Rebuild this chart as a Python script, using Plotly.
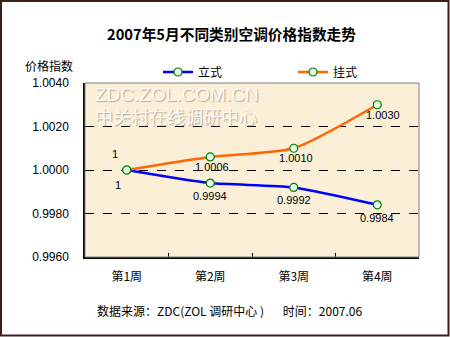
import plotly.graph_objects as go

categories = ["第1周", "第2周", "第3周", "第4周"]
lishi = [1.0, 0.9994, 0.9992, 0.9984]
guashi = [1.0, 1.0006, 1.0010, 1.0030]
lishi_labels = ["1", "0.9994", "0.9992", "0.9984"]
guashi_labels = ["1", "1.0006", "1.0010", "1.0030"]
y_ticks = [0.9960, 0.9980, 1.0000, 1.0020, 1.0040]

W, H = 450, 337
L, R, T, B = 85, 419, 83, 257

def px(x):
    return (x - L) / (R - L)

def py(y):
    return (B - y) / (B - T)

font_num = "Liberation Sans, Arial, sans-serif"
font_cjk = "Noto Sans CJK SC, sans-serif"

fig = go.Figure()
marker = dict(symbol="circle", size=8, color="#E6FFE6", line=dict(color="#008000", width=1.2))
fig.add_trace(go.Scatter(x=categories, y=lishi, name="立式", mode="lines+markers",
                         line=dict(color="#0000FF", width=2.5, shape="spline", smoothing=0.6),
                         marker=marker, legend="legend"))
fig.add_trace(go.Scatter(x=categories, y=guashi, name="挂式", mode="lines+markers",
                         line=dict(color="#FF6600", width=2.5, shape="spline", smoothing=0.6),
                         marker=marker, legend="legend2"))

ann = []
# watermark (drawn first, under the data labels)
wm_font = dict(color="rgba(255,255,250,0.9)", shadow="1px 1px 1px rgba(140,130,115,0.7)")
ann.append(dict(xref="paper", yref="paper", x=px(93), y=py(94), xanchor="left", yanchor="middle",
                text="ZDC.ZOL.COM.CN", showarrow=False,
                font=dict(family=font_num, size=19, **wm_font)))
ann.append(dict(xref="paper", yref="paper", x=px(93), y=py(116), xanchor="left", yanchor="middle",
                text="中关村在线调研中心", showarrow=False,
                font=dict(family=font_cjk, size=18, **wm_font)))
# data labels
for i, (c, v, t) in enumerate(zip(categories, guashi, guashi_labels)):
    if i == 0:
        ann.append(dict(x=c, y=v, text=t, showarrow=False, xshift=-12, yshift=16,
                        font=dict(family=font_num, size=11, color="#000000")))
    else:
        ann.append(dict(x=c, y=v, text=t, showarrow=False, xshift=2 if i < 3 else 6, yshift=-10,
                        font=dict(family=font_num, size=11, color="#000000")))
for i, (c, v, t) in enumerate(zip(categories, lishi, lishi_labels)):
    if i == 0:
        ann.append(dict(x=c, y=v, text=t, showarrow=False, xshift=-9, yshift=-15,
                        font=dict(family=font_num, size=11, color="#000000")))
    else:
        ann.append(dict(x=c, y=v, text=t, showarrow=False, xshift=0, yshift=-13,
                        font=dict(family=font_num, size=11, color="#000000")))
# title
ann.append(dict(xref="paper", yref="paper", x=px(231), y=py(33), xanchor="center", yanchor="middle",
                text="<b>2007年5月不同类别空调价格指数走势</b>", showarrow=False,
                font=dict(family=font_cjk, size=14.7, color="#000000")))
# y title
ann.append(dict(xref="paper", yref="paper", x=px(49), y=py(65), xanchor="center", yanchor="middle",
                text="价格指数", showarrow=False,
                font=dict(family=font_cjk, size=12, color="#000000")))
# footer
ann.append(dict(xref="paper", yref="paper", x=px(229), y=py(310), xanchor="center", yanchor="middle",
                text="数据来源：ZDC(ZOL 调研中心 )&nbsp;&nbsp;&nbsp;&nbsp;&nbsp;&nbsp;&nbsp;时间：2007.06", showarrow=False,
                font=dict(family=font_cjk, size=12, color="#000000")))

shapes = [
    dict(type="rect", xref="paper", yref="paper", x0=px(1), x1=px(448.5), y0=py(1), y1=py(335.5),
         line=dict(color="#3A1F1A", width=2), layer="above"),
    dict(type="rect", xref="paper", yref="paper", x0=0, x1=1, y0=0, y1=1,
         line=dict(color="#808080", width=1), layer="above"),
]

fig.update_layout(
    width=W, height=H,
    margin=dict(l=L, r=W - R, t=T, b=H - B),
    paper_bgcolor="#FFFFFF",
    plot_bgcolor="#FBEFD8",
    annotations=ann,
    shapes=shapes,
    legend=dict(orientation="h", x=px(158), y=py(72), xanchor="left", yanchor="middle",
                font=dict(family=font_cjk, size=12, color="#000000"), bgcolor="rgba(0,0,0,0)"),
    legend2=dict(orientation="h", x=px(293), y=py(72), xanchor="left", yanchor="middle",
                 font=dict(family=font_cjk, size=12, color="#000000"), bgcolor="rgba(0,0,0,0)"),
    showlegend=True,
)
fig.update_xaxes(type="category", tickson="boundaries", ticks="inside", ticklen=4, tickcolor="#000000",
                 showline=True, linecolor="#000000", linewidth=1.5, showgrid=False, ticklabelstandoff=8,
                 tickfont=dict(family=font_cjk, size=12, color="#000000"), range=[-0.5, 3.5])
fig.update_yaxes(range=[0.9960, 1.0040], tickvals=y_ticks, tickformat=".4f", ticks="",
                 showline=True, linecolor="#000000", linewidth=1.5, ticklabelstandoff=12,
                 showgrid=True, gridcolor="#000000", griddash="dash", gridwidth=1, zeroline=False,
                 tickfont=dict(family=font_num, size=12, color="#000000"))

fig.write_html("out.html")
